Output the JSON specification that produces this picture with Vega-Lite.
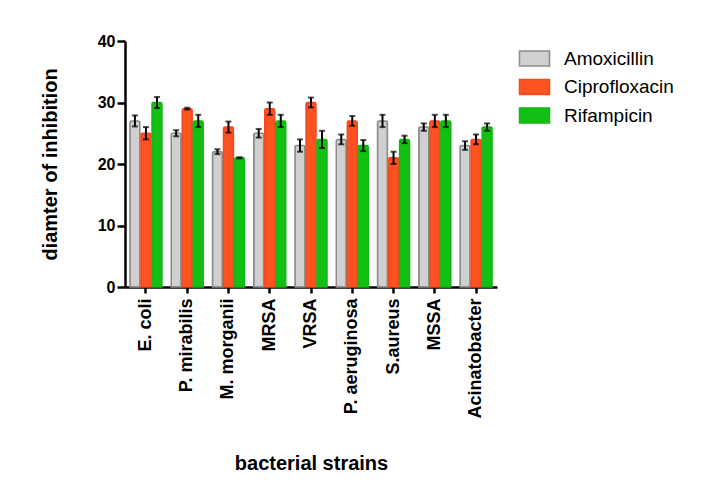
{
  "$schema": "https://vega.github.io/schema/vega-lite/v6.json",
  "width": 372,
  "height": 246,
  "autosize": "none",
  "padding": {"left": 125, "top": 41, "right": 223, "bottom": 200},
  "background": "white",
  "config": {
    "view": {"stroke": null},
    "font": "Liberation Sans",
    "axis": {
      "domainColor": "black",
      "domainWidth": 2.5,
      "tickColor": "black",
      "tickWidth": 2.5,
      "labelColor": "black",
      "labelFont": "Liberation Sans",
      "labelFontWeight": "bold",
      "labelFontSize": 16,
      "titleFont": "Liberation Sans",
      "titleFontWeight": "bold",
      "titleFontSize": 20,
      "titleColor": "black",
      "grid": false
    }
  },
  "data": {
    "values": [
      {"strain": "E. coli", "drug": "Amoxicillin", "value": 27, "err": 0.9},
      {"strain": "E. coli", "drug": "Ciprofloxacin", "value": 25, "err": 1.0},
      {"strain": "E. coli", "drug": "Rifampicin", "value": 30, "err": 0.9},
      {"strain": "P. mirabilis", "drug": "Amoxicillin", "value": 25, "err": 0.5},
      {"strain": "P. mirabilis", "drug": "Ciprofloxacin", "value": 29, "err": 0.15},
      {"strain": "P. mirabilis", "drug": "Rifampicin", "value": 27, "err": 1.0},
      {"strain": "M. morganii", "drug": "Amoxicillin", "value": 22, "err": 0.4},
      {"strain": "M. morganii", "drug": "Ciprofloxacin", "value": 26, "err": 0.9},
      {"strain": "M. morganii", "drug": "Rifampicin", "value": 21, "err": 0.1},
      {"strain": "MRSA", "drug": "Amoxicillin", "value": 25, "err": 0.7},
      {"strain": "MRSA", "drug": "Ciprofloxacin", "value": 29, "err": 1.0},
      {"strain": "MRSA", "drug": "Rifampicin", "value": 27, "err": 1.0},
      {"strain": "VRSA", "drug": "Amoxicillin", "value": 23, "err": 1.0},
      {"strain": "VRSA", "drug": "Ciprofloxacin", "value": 30, "err": 0.8},
      {"strain": "VRSA", "drug": "Rifampicin", "value": 24, "err": 1.4},
      {"strain": "P. aeruginosa", "drug": "Amoxicillin", "value": 24, "err": 0.8},
      {"strain": "P. aeruginosa", "drug": "Ciprofloxacin", "value": 27, "err": 0.8},
      {"strain": "P. aeruginosa", "drug": "Rifampicin", "value": 23, "err": 0.9},
      {"strain": "S.aureus", "drug": "Amoxicillin", "value": 27, "err": 1.0},
      {"strain": "S.aureus", "drug": "Ciprofloxacin", "value": 21, "err": 1.0},
      {"strain": "S.aureus", "drug": "Rifampicin", "value": 24, "err": 0.6},
      {"strain": "MSSA", "drug": "Amoxicillin", "value": 26, "err": 0.6},
      {"strain": "MSSA", "drug": "Ciprofloxacin", "value": 27, "err": 1.0},
      {"strain": "MSSA", "drug": "Rifampicin", "value": 27, "err": 1.0},
      {"strain": "Acinatobacter", "drug": "Amoxicillin", "value": 23, "err": 0.7},
      {"strain": "Acinatobacter", "drug": "Ciprofloxacin", "value": 24, "err": 0.8},
      {"strain": "Acinatobacter", "drug": "Rifampicin", "value": 26, "err": 0.6}
    ]
  },
  "encoding": {
    "x": {
      "field": "strain",
      "type": "nominal",
      "sort": null,
      "scale": {"paddingInner": 0.225, "paddingOuter": 0.12},
      "axis": {
        "title": "bacterial strains",
        "labelAngle": -90,
        "labelAlign": "right",
        "labelBaseline": "middle",
        "labelFontSize": 18,
        "labelPadding": 5,
        "tickSize": 6,
        "titleY": 176,
        "titleBaseline": "middle"
      }
    },
    "xOffset": {
      "field": "drug",
      "type": "nominal",
      "sort": ["Amoxicillin", "Ciprofloxacin", "Rifampicin"],
      "scale": {"paddingInner": 0.1}
    }
  },
  "layer": [
    {
      "mark": {"type": "bar", "strokeWidth": 1.5, "cornerRadiusTopLeft": 1.5, "cornerRadiusTopRight": 1.5},
      "encoding": {
        "y": {
          "field": "value",
          "type": "quantitative",
          "title": "diamter of inhibition",
          "scale": {"domain": [0, 40]},
          "axis": {
            "values": [0, 10, 20, 30, 40],
            "tickSize": 8,
            "labelPadding": 2,
            "titleX": -75,
            "titleBaseline": "middle"
          }
        },
        "fill": {
          "field": "drug",
          "type": "nominal",
          "scale": {
            "domain": ["Amoxicillin", "Ciprofloxacin", "Rifampicin"],
            "range": ["#d0d0d0", "#ff5220", "#12bf12"]
          },
          "legend": {
            "title": null,
            "orient": "none",
            "legendX": 400,
            "legendY": 8,
            "symbolType": "M-2,-1H2V1H-2Z",
            "symbolSize": 225,
            "symbolStrokeWidth": 1.5,
            "symbolOpacity": 1,
            "labelFont": "Liberation Sans",
            "labelFontSize": 19,
            "labelColor": "black",
            "labelOffset": 20,
            "rowPadding": 7.5,
            "labelExpr": "datum.label == 'Amoxicillin' ? datum.label : '\u00a0' + datum.label"
          }
        },
        "stroke": {
          "field": "drug",
          "type": "nominal",
          "scale": {
            "domain": ["Amoxicillin", "Ciprofloxacin", "Rifampicin"],
            "range": ["#8c8c8c", "#f24a1c", "#12b812"]
          },
          "legend": null
        }
      }
    },
    {
      "mark": {
        "type": "errorbar",
        "color": "black",
        "thickness": 2,
        "ticks": {"size": 6, "thickness": 2, "color": "black"}
      },
      "encoding": {
        "y": {"field": "value", "type": "quantitative", "title": "diamter of inhibition"},
        "yError": {"field": "err"}
      }
    }
  ]
}
